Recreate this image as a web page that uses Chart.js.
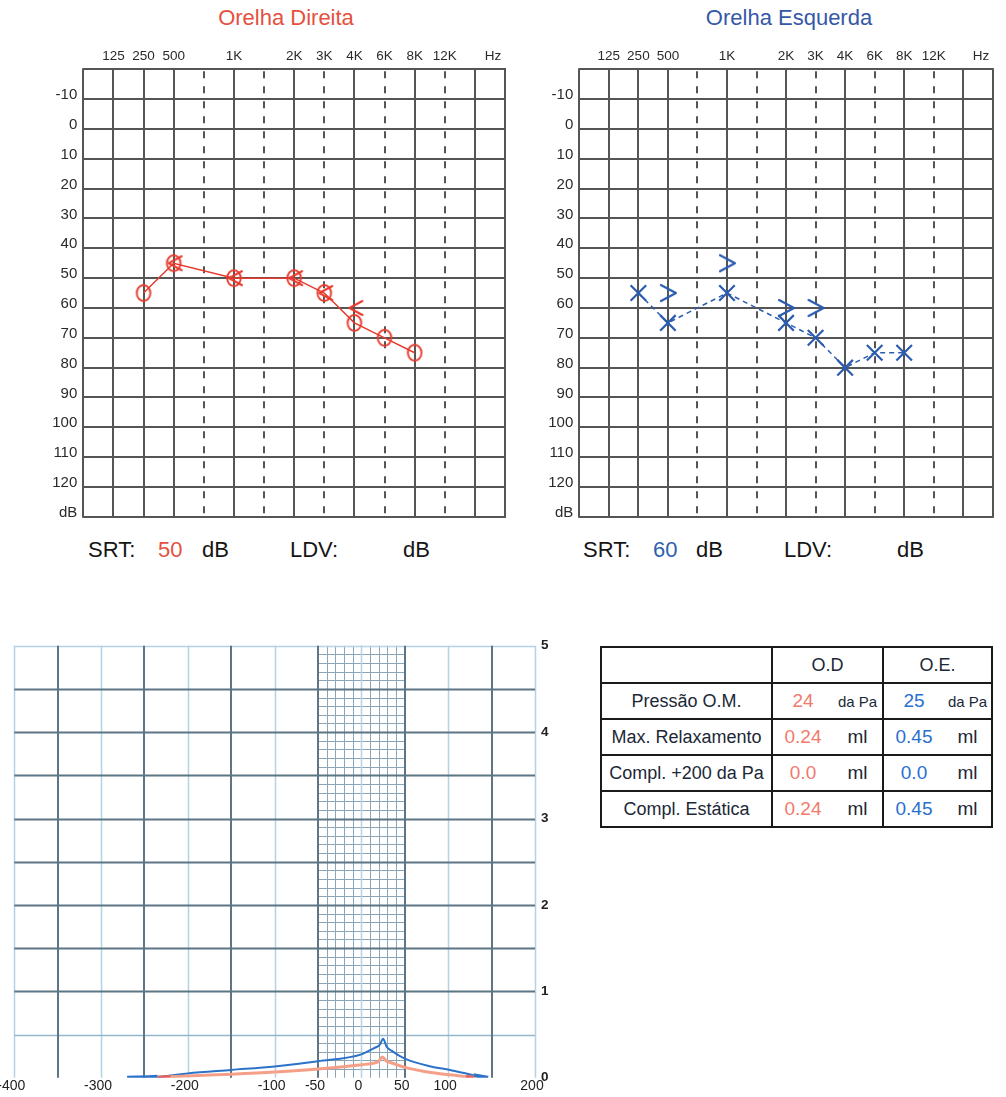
<!DOCTYPE html>
<html>
<head>
<meta charset="utf-8">
<script src="https://cdn.jsdelivr.net/npm/chart.js@4.4.0/dist/chart.umd.min.js"></script>
<style>
  body { margin: 0; background: #fff; font-family: "Liberation Sans", Arial, sans-serif; }
  #page { position: relative; width: 1006px; height: 1097px; overflow: hidden; }
  canvas { position: absolute; }
  .ttl { position: absolute; top: 7px; font-size: 22px; line-height: 22px; white-space: nowrap; transform: translateX(-50%); }
  .srt { position: absolute; top: 539px; font-size: 22px; line-height: 22px; color: #151515; white-space: nowrap; }
  #tymp { position: absolute; left: 600px; top: 646px; border-collapse: collapse; table-layout: fixed; color: #1c2836; }
  #tymp td { border: 2px solid #1a1a1a; padding: 0; height: 34px; text-align: center; font-size: 18px; }
  .vc { display: flex; align-items: center; }
  .vc .v { width: 60px; text-align: center; font-size: 19px; }
  .vc .u { flex: 1; text-align: center; font-size: 19px; }
  .vc .u.small { font-size: 15px; }
</style>
</head>
<body>
<div id="page">
  <div class="ttl" style="left:286px;color:#e4513f">Orelha Direita</div>
  <div class="ttl" style="left:789px;color:#3558a8">Orelha Esquerda</div>
  <canvas id="odChart" width="520" height="530" style="left:0;top:0"></canvas>
  <canvas id="oeChart" width="510" height="530" style="left:496px;top:0"></canvas>

  <div class="srt" style="left:88px">SRT:</div>
  <div class="srt" style="left:158px;color:#e4513f" id="srtOd"></div>
  <div class="srt" style="left:202px">dB</div>
  <div class="srt" style="left:290px">LDV:</div>
  <div class="srt" style="left:403px">dB</div>

  <div class="srt" style="left:583px">SRT:</div>
  <div class="srt" style="left:653px;color:#2f5fb0" id="srtOe"></div>
  <div class="srt" style="left:696px">dB</div>
  <div class="srt" style="left:784px">LDV:</div>
  <div class="srt" style="left:897px">dB</div>

  <canvas id="tympChart" width="560" height="467" style="left:0;top:630px"></canvas>
  <table id="tymp"></table>
</div>

<script>
// ---- audiogram data ----
// one vertical grid line per entry; empty strings are unlabeled inter-octave lines
var columnLabels = ['', '125', '250', '500', '', '1K', '', '2K', '3K', '4K', '6K', '8K', '12K', '', ''];
var dashedCols = [4, 6, 8, 10, 12];
var hzPos = 13.6;
var dbLines = [-20, -10, 0, 10, 20, 30, 40, 50, 60, 70, 80, 90, 100, 110, 120, 130];
var dbTicks = [-10, 0, 10, 20, 30, 40, 50, 60, 70, 80, 90, 100, 110, 120, 130];
var dbTickLabels = ['-10', '0', '10', '20', '30', '40', '50', '60', '70', '80', '90', '100', '110', '120', 'dB'];

// Orelha Direita (right ear)
var odAirFreq = ['250', '500', '1K', '2K', '3K', '4K', '6K', '8K'];
var odAir = [55, 45, 50, 50, 55, 65, 70, 75];
var odBoneFreq = ['500', '1K', '2K', '3K', '4K'];
var odBone = [45, 50, 50, 55, 60];
var odSrt = '50';

// Orelha Esquerda (left ear)
var oeAirFreq = ['250', '500', '1K', '2K', '3K', '4K', '6K', '8K'];
var oeAir = [55, 65, 55, 65, 70, 80, 75, 75];
var oeBoneFreq = ['500', '1K', '2K', '3K'];
var oeBone = [55, 45, 60, 60];
var oeSrt = '60';

// ---- tympanogram data ----
var tympXTicks = [-400, -300, -200, -100, -50, 0, 50, 100, 200];
var tympYTicks = [0, 1, 2, 3, 4, 5];
var odPressure = [-235, -220, -200, -150, -100, -50, 0, 15, 20, 24, 29, 35, 50, 80, 105, 120, 130];
var odCompliance = [0, 0.01, 0.02, 0.04, 0.065, 0.10, 0.15, 0.17, 0.19, 0.24, 0.19, 0.17, 0.12, 0.06, 0.03, 0.01, 0];
var oePressure = [-270, -235, -200, -150, -100, -50, 0, 14, 21, 25, 29, 35, 50, 80, 102, 129, 146];
var oeCompliance = [0, 0.01, 0.05, 0.09, 0.13, 0.19, 0.27, 0.34, 0.38, 0.45, 0.36, 0.31, 0.22, 0.13, 0.09, 0.03, 0];

// ---- table data ----
var rowLabels = ['Pressão O.M.', 'Max. Relaxamento', 'Compl. +200 da Pa', 'Compl. Estática'];
var odValues = ['24', '0.24', '0.0', '0.24'];
var oeValues = ['25', '0.45', '0.0', '0.45'];
var units = ['da Pa', 'ml', 'ml', 'ml'];

var RED = '#e63b2e', BLUE = '#2b5cb0';

function marker(w, h, color, lw, draw) {
    var c = document.createElement('canvas');
    c.width = w; c.height = h;
    var g = c.getContext('2d');
    g.strokeStyle = color; g.lineWidth = lw; g.lineCap = 'round'; g.lineJoin = 'round';
    g.beginPath(); draw(g); g.stroke();
    return c;
}
var ringMark = marker(18, 20, RED, 1.9, function(g){ g.ellipse(9, 10, 6.8, 8, 0, 0, Math.PI * 2); });
var leftBracket = marker(22, 18, RED, 2, function(g){ g.moveTo(19, 2); g.lineTo(6, 9); g.lineTo(19, 16); });
var rightBracket = marker(22, 20, BLUE, 2.2, function(g){ g.moveTo(4, 2); g.lineTo(19, 10); g.lineTo(4, 18); });

var audioGrid = {
    id: 'audioGrid',
    beforeDatasetsDraw: function(chart) {
        var ctx = chart.ctx, a = chart.chartArea, x = chart.scales.x, y = chart.scales.y;
        ctx.save();
        ctx.strokeStyle = '#555';
        ctx.lineWidth = 2;
        dbLines.forEach(function(v){
            var py = Math.round(y.getPixelForValue(v));
            ctx.beginPath(); ctx.moveTo(a.left - 1, py); ctx.lineTo(a.right + 1, py); ctx.stroke();
        });
        columnLabels.forEach(function(l, i){
            var px = Math.round(x.getPixelForValue(i));
            ctx.beginPath();
            if (dashedCols.indexOf(i) >= 0) {
                ctx.setLineDash([7, 8]); ctx.lineDashOffset = -2;
            } else {
                ctx.setLineDash([]);
            }
            ctx.moveTo(px, a.top); ctx.lineTo(px, a.bottom); ctx.stroke();
        });
        ctx.restore();
    }
};

function audiogram(id, airFreq, air, boneFreq, bone, color, airStyle, boneStyle, dash, padRight) {
    return new Chart(document.getElementById(id), {
        type: 'scatter',
        data: {
            datasets: [{
                data: airFreq.map(function(f, i){ return {x: columnLabels.indexOf(f), y: air[i]}; }),
                showLine: true,
                borderColor: color,
                borderWidth: 1.5,
                borderDash: dash,
                pointStyle: airStyle,
                pointRadius: 11,
                pointBorderColor: color,
                pointBorderWidth: 2.2,
                pointBackgroundColor: 'rgba(0,0,0,0)'
            }, {
                data: boneFreq.map(function(f, i){ return {x: columnLabels.indexOf(f), y: bone[i]}; }),
                showLine: false,
                pointStyle: boneStyle,
                pointRadius: 8
            }]
        },
        options: {
            responsive: false,
            animation: false,
            events: [],
            layout: {padding: {left: 0, right: padRight, top: 31, bottom: 10.7}},
            plugins: {legend: {display: false}, tooltip: {enabled: false}},
            scales: {
                x: {
                    type: 'linear', position: 'top', min: 0, max: columnLabels.length - 1,
                    grid: {display: false, drawTicks: false},
                    border: {display: false},
                    afterBuildTicks: function(s){
                        var t = [];
                        columnLabels.forEach(function(l, i){ if (l) t.push({value: i}); });
                        t.push({value: hzPos});
                        s.ticks = t;
                    },
                    afterFit: function(s){ s.height = 38.3; s.paddingLeft = 0; s.paddingRight = 0; },
                    ticks: {
                        autoSkip: false, maxRotation: 0, padding: 5, color: '#2a2a2a',
                        font: {family: 'Liberation Sans', size: 13.5},
                        callback: function(v){ return v === hzPos ? 'Hz' : columnLabels[v]; }
                    }
                },
                y: {
                    type: 'linear', reverse: true, min: -20, max: 130,
                    grid: {display: false, drawTicks: false},
                    border: {display: false},
                    afterBuildTicks: function(s){ s.ticks = dbTicks.map(function(v){ return {value: v}; }); },
                    afterFit: function(s){ s.width = 83.3; s.paddingTop = 0; s.paddingBottom = 0; },
                    ticks: {
                        autoSkip: false, padding: 6, labelOffset: -4, color: '#2a2a2a',
                        font: {family: 'Liberation Sans', size: 15},
                        callback: function(v){ return dbTickLabels[dbTicks.indexOf(v)]; }
                    }
                }
            }
        },
        plugins: [audioGrid]
    });
}

audiogram('odChart', odAirFreq, odAir, odBoneFreq, odBone, RED, ringMark, leftBracket, [], 15);
audiogram('oeChart', oeAirFreq, oeAir, oeBoneFreq, oeBone, BLUE, 'crossRot', rightBracket, [5, 4], 6);
document.getElementById('srtOd').textContent = odSrt;
document.getElementById('srtOe').textContent = oeSrt;

// ---- tympanogram ----
var tympGrid = {
    id: 'tympGrid',
    beforeDatasetsDraw: function(chart) {
        var ctx = chart.ctx, a = chart.chartArea, x = chart.scales.x, y = chart.scales.y;
        function snap(v, w){ return Math.round(v) + (w % 2 ? 0.5 : 0); }
        function vline(p, c, w){
            var px = snap(x.getPixelForValue(p), w);
            ctx.strokeStyle = c; ctx.lineWidth = w;
            ctx.beginPath(); ctx.moveTo(px, a.top); ctx.lineTo(px, a.bottom); ctx.stroke();
        }
        function hline(v, c, w, x0, x1){
            var py = snap(y.getPixelForValue(v), w);
            ctx.strokeStyle = c; ctx.lineWidth = w;
            ctx.beginPath(); ctx.moveTo(x0, py); ctx.lineTo(x1, py); ctx.stroke();
        }
        ctx.save();
        // fine grid in the -50..50 daPa window
        var fx0 = x.getPixelForValue(-50), fx1 = x.getPixelForValue(50);
        for (var p = -40; p < 50; p += 10) vline(p, '#8aa5b7', 1);
        for (var k = 1; k < 50; k++) if (k % 5) hline(k / 10, '#8aa5b7', 1, fx0, fx1);
        // major grid
        for (var q = -400; q <= 200; q += 50) {
            if ((q / 50) % 2 === 0) vline(q, '#b3d2e6', 1.5);
        }
        hline(5, '#b3d2e6', 1.5, a.left, a.right);
        hline(0.5, '#93b6cc', 1.5, a.left, a.right);
        for (var m = 2; m < 10; m++) hline(m / 2, '#5d7584', 1.8, a.left, a.right);
        for (q = -400; q <= 200; q += 50) {
            if ((q / 50) % 2 !== 0) vline(q, '#5d7584', 2);
        }
        ctx.restore();
    }
};

function thickEnds(ctx) {
    var n = ctx.chart.data.datasets[ctx.datasetIndex].data.length;
    return (ctx.p0DataIndex === 0 || ctx.p1DataIndex === n - 1);
}

new Chart(document.getElementById('tympChart'), {
    type: 'scatter',
    data: {
        datasets: [{
            data: odPressure.map(function(p, i){ return {x: p, y: odCompliance[i]}; }),
            showLine: true, pointRadius: 0, borderWidth: 3, borderColor: '#f4a088',
            cubicInterpolationMode: 'monotone', tension: 0.3,
            segment: {
                borderColor: function(c){ return thickEnds(c) ? '#e2645a' : undefined; },
                borderWidth: function(c){ return thickEnds(c) ? 4 : undefined; }
            }
        }, {
            data: oePressure.map(function(p, i){ return {x: p, y: oeCompliance[i]}; }),
            showLine: true, pointRadius: 0, borderWidth: 2, borderColor: '#2c72c8',
            cubicInterpolationMode: 'monotone', tension: 0.3,
            segment: {
                borderWidth: function(c){ return thickEnds(c) ? 4 : undefined; }
            }
        }]
    },
    options: {
        responsive: false,
        animation: false,
        events: [],
        layout: {padding: {left: 14.3, right: 0, top: 15.7, bottom: 0}},
        plugins: {legend: {display: false}, tooltip: {enabled: false}},
        scales: {
            x: {
                type: 'linear', min: -400, max: 200,
                grid: {display: false, drawTicks: false},
                border: {display: false},
                afterBuildTicks: function(s){ s.ticks = tympXTicks.map(function(v){ return {value: v}; }); },
                afterFit: function(s){ s.height = 19.3; s.paddingLeft = 0; s.paddingRight = 0; },
                ticks: {autoSkip: false, maxRotation: 0, padding: 0, labelOffset: -3, color: '#222',
                        font: {family: 'Liberation Sans', size: 14}}
            },
            y: {
                type: 'linear', position: 'right', min: 0, max: 5,
                grid: {display: false, drawTicks: false},
                border: {display: false},
                afterBuildTicks: function(s){ s.ticks = tympYTicks.map(function(v){ return {value: v}; }); },
                afterFit: function(s){ s.width = 25; s.paddingTop = 0; s.paddingBottom = 0; },
                ticks: {padding: 6, color: '#222', font: {family: 'Liberation Sans', size: 13.5, weight: 'bold'}}
            }
        }
    },
    plugins: [tympGrid]
});

// ---- results table ----
var html = '<colgroup><col style="width:171px"><col style="width:111px"><col style="width:109px"></colgroup>';
html += '<tr><td></td><td>O.D</td><td>O.E.</td></tr>';
rowLabels.forEach(function(l, i){
    var cls = units[i] === 'da Pa' ? 'u small' : 'u';
    html += '<tr><td>' + l + '</td>' +
        '<td><div class="vc"><span class="v" style="color:#f07a6c">' + odValues[i] + '</span><span class="' + cls + '">' + units[i] + '</span></div></td>' +
        '<td><div class="vc"><span class="v" style="color:#2a6fd0">' + oeValues[i] + '</span><span class="' + cls + '">' + units[i] + '</span></div></td></tr>';
});
document.getElementById('tymp').innerHTML = html;
</script>
</body>
</html>
